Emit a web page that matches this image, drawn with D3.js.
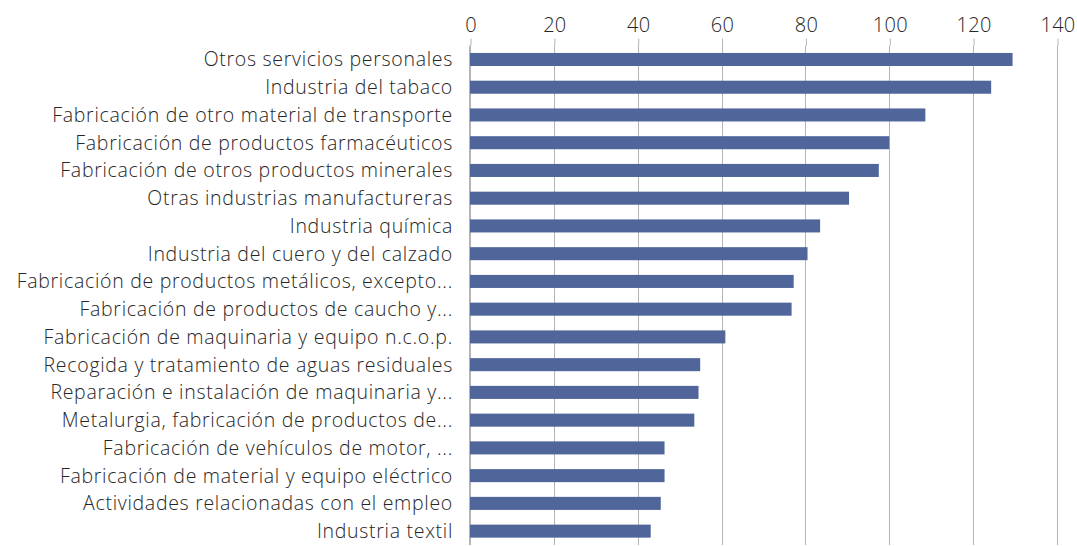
<!DOCTYPE html>
<html>
<head>
<meta charset="utf-8">
<script src="https://cdn.jsdelivr.net/npm/d3@7"></script>
<style>
  html, body { margin: 0; padding: 0; background: #fff; }
  svg { display: block; font-family: "Open Sans", "Noto Sans", sans-serif; }
</style>
</head>
<body>
<svg id="chart" width="1077" height="546"></svg>
<script>
// Sectors, ordered from largest to smallest
const categories = [
  "Otros servicios personales",
  "Industria del tabaco",
  "Fabricación de otro material de transporte",
  "Fabricación de productos farmacéuticos",
  "Fabricación de otros productos minerales",
  "Otras industrias manufactureras",
  "Industria química",
  "Industria del cuero y del calzado",
  "Fabricación de productos metálicos, excepto...",
  "Fabricación de productos de caucho y...",
  "Fabricación de maquinaria y equipo n.c.o.p.",
  "Recogida y tratamiento de aguas residuales",
  "Reparación e instalación de maquinaria y...",
  "Metalurgia, fabricación de productos de...",
  "Fabricación de vehículos de motor, ...",
  "Fabricación de material y equipo eléctrico",
  "Actividades relacionadas con el empleo",
  "Industria textil"
];
const values = [129.4, 124.3, 108.6, 100.0, 97.5, 90.4, 83.5, 80.5, 77.2, 76.7,
                60.9, 54.9, 54.5, 53.5, 46.4, 46.4, 45.5, 43.1];
const tickValues = [0, 20, 40, 60, 80, 100, 120, 140];

const width = 1077, height = 546;
const margin = { top: 45.6, right: 20, bottom: 1, left: 470 };
const fontFamily = "'Open Sans', 'Noto Sans', sans-serif";

const svg = d3.select("#chart");

const x = d3.scaleLinear()
  .domain([0, 140])
  .range([margin.left, width - margin.right]);

const y = d3.scaleBand()
  .domain(categories)
  .range([margin.top, height - margin.bottom])
  .paddingInner(0.53)
  .paddingOuter(0.265);

const gridColor = "#b4b4b4";
const textColor = "#262626";

// Vertical gridlines
svg.append("g")
  .selectAll("line")
  .data(tickValues)
  .join("line")
  .attr("x1", d => Math.round(x(d)) + 0.5)
  .attr("x2", d => Math.round(x(d)) + 0.5)
  .attr("y1", margin.top)
  .attr("y2", height - margin.bottom)
  .attr("stroke", gridColor)
  .attr("stroke-width", 1);

// Top value axis
const xAxis = svg.append("g")
  .attr("transform", `translate(0.5,${margin.top})`)
  .call(d3.axisTop(x).tickValues(tickValues).tickSize(7).tickPadding(7).tickFormat(d3.format("d")));
xAxis.select(".domain").remove();
xAxis.selectAll(".tick line").attr("stroke", gridColor);
xAxis.selectAll(".tick text")
  .attr("fill", textColor)
  .style("font-size", "20px")
  .style("font-weight", 300)
  .style("letter-spacing", "0.3px")
  .style("font-family", fontFamily);

// Bars
svg.append("g")
  .selectAll("rect")
  .data(values)
  .join("rect")
  .attr("x", x(0))
  .attr("y", (d, i) => y(categories[i]))
  .attr("width", d => x(d) - x(0))
  .attr("height", y.bandwidth())
  .attr("fill", "#50669b");

// Category axis line
svg.append("line")
  .attr("x1", Math.round(x(0)) - 0.5)
  .attr("x2", Math.round(x(0)) - 0.5)
  .attr("y1", margin.top)
  .attr("y2", height - margin.bottom)
  .attr("stroke", gridColor);

// Category labels
svg.append("g")
  .selectAll("text")
  .data(categories)
  .join("text")
  .attr("x", x(0) - 17)
  .attr("y", d => y(d) + y.bandwidth() / 2)
  .attr("dy", "0.36em")
  .attr("text-anchor", "end")
  .attr("fill", textColor)
  .style("font-size", "19.5px")
  .style("font-weight", 300)
  .style("letter-spacing", "0.7px")
  .style("font-family", fontFamily)
  .text(d => d);
</script>
</body>
</html>
